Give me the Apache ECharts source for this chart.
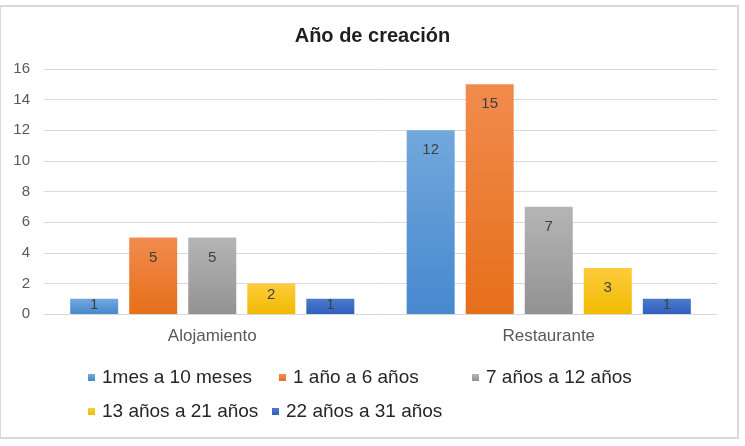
<!DOCTYPE html>
<html>
<head>
<meta charset="utf-8">
<script src="https://cdn.jsdelivr.net/npm/echarts@6/dist/echarts.min.js"></script>
<style>
html,body{margin:0;padding:0;background:#fff;}
#c{width:745px;height:446px;}
</style>
</head>
<body>
<div id="c"></div>
<script>
const categories = ['Alojamiento', 'Restaurante'];
const seriesNames = ['1mes a 10 meses', '1 año a 6 años', '7 años a 12 años', '13 años a 21 años', '22 años a 31 años'];
const s1 = [1, 12];
const s2 = [5, 15];
const s3 = [5, 7];
const s4 = [2, 3];
const s5 = [1, 1];
const yTicks = { min: 0, max: 16, interval: 2 };

const seriesValues = [s1, s2, s3, s4, s5];
const gradients = [
  ['#72a8dc', '#4788cf'],
  ['#f18c4e', '#e66f1a'],
  ['#b5b5b5', '#929292'],
  ['#ffcb3d', '#f0bb00'],
  ['#4c7bcd', '#2f5fbd']
];
const legendPos = [
  { left: 88, top: 368 },
  { left: 279, top: 368 },
  { left: 472, top: 368 },
  { left: 88, top: 402 },
  { left: 272, top: 402 }
];
const FONT = '"Liberation Sans", Arial, sans-serif';
const PX_PER_UNIT = 15.3;

function labelDistance(v) {
  const h = v * PX_PER_UNIT;
  const c = Math.min(20, Math.max(6, h - 19));
  return c - 8;
}

const chart = echarts.init(document.getElementById('c'), null, { renderer: 'canvas' });
chart.setOption({
  animation: false,
  backgroundColor: '#ffffff',
  textStyle: { fontFamily: FONT },
  title: {
    text: 'Año de creación',
    left: 'center',
    top: 21,
    textStyle: { fontFamily: FONT, fontSize: 20, fontWeight: 'bold', color: '#1f1f1f' }
  },
  graphic: [{
    type: 'rect',
    silent: true,
    z: -10,
    shape: { x: 0, y: 6, width: 738, height: 432 },
    style: { fill: 'none', stroke: '#d9d9d9', lineWidth: 2 }
  }],
  legend: seriesNames.map((n, i) => ({
    data: [n],
    left: legendPos[i].left,
    top: legendPos[i].top,
    padding: 0,
    itemWidth: 7,
    itemHeight: 7,
    icon: 'rect',
    selectedMode: false,
    textStyle: { fontFamily: FONT, fontSize: 19, color: '#262626', padding: [0, 0, 0, 2] }
  })),
  grid: { left: 44, right: 28, top: 69, bottom: 132, containLabel: false },
  xAxis: {
    type: 'category',
    data: categories,
    axisLine: { show: true, lineStyle: { color: '#d9d9d9', width: 1 } },
    axisTick: { show: false },
    axisLabel: { fontFamily: FONT, fontSize: 17, color: '#595959', margin: 14 }
  },
  yAxis: {
    type: 'value',
    min: yTicks.min,
    max: yTicks.max,
    interval: yTicks.interval,
    axisLine: { show: false },
    axisTick: { show: false },
    splitLine: { lineStyle: { color: '#d9d9d9', width: 1 } },
    axisLabel: { fontFamily: FONT, fontSize: 15, color: '#595959', margin: 14 }
  },
  series: seriesNames.map((n, i) => ({
    name: n,
    type: 'bar',
    barWidth: 48,
    barGap: '23%',
    itemStyle: {
      color: new echarts.graphic.LinearGradient(0, 0, 0, 1, [
        { offset: 0, color: gradients[i][0] },
        { offset: 1, color: gradients[i][1] }
      ])
    },
    label: {
      show: true,
      position: 'insideTop',
      fontFamily: FONT,
      fontSize: 15,
      lineHeight: 16,
      color: '#404040'
    },
    data: seriesValues[i].map(v => ({ value: v, label: { distance: labelDistance(v) } }))
  }))
});
</script>
</body>
</html>
